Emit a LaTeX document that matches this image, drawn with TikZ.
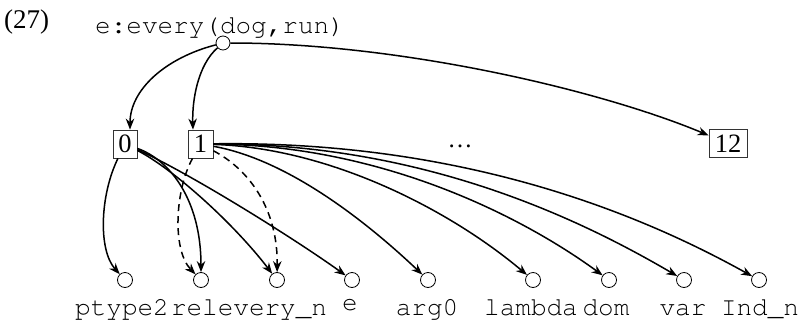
\documentclass[tikz,border=0pt]{standalone}
\usepackage{fontspec}
\setmainfont{Liberation Serif}
\newcommand{\crfont}{\fontencoding{T1}\fontfamily{pcr}\fontseries{m}\fontshape{n}\fontsize{26}{30}\selectfont}
\usetikzlibrary{arrows.meta}
\begin{document}
\begin{tikzpicture}[x=1pt,y=-1pt,
  box/.style={draw=black!80, line width=0.8pt, inner sep=0pt, minimum height=28pt, font=\fontsize{26.5}{30}\selectfont},
  dot/.style={circle, draw, line width=0.8pt, minimum size=15pt, inner sep=0pt},
  lab/.style={anchor=base, inner sep=0pt, font=\crfont},
  edge/.style={line width=1.5pt, -{Stealth[length=11pt,width=8.5pt]}},
  dedge/.style={edge, dash pattern=on 7pt off 5pt}]
\useasboundingbox (0,0) rectangle (802,324);
% top
\node[anchor=base west, inner sep=0pt, font=\fontsize{27}{30}\selectfont] (num) at (4,28) {(27)};
\node[dot, minimum size=14pt] (r) at (223,43) {};
\node[anchor=base, inner sep=0pt, font=\crfont] (rl) at (220,33) {e:every(dog,run)};
% middle
\node[box, minimum width=24pt] (b0) at (125,144) {0};
\node[box, minimum width=25pt] (b1) at (200.5,144) {1};
\node[box, minimum width=38pt] (b12) at (728,143.5) {12};
\node[anchor=base, inner sep=0pt, font=\fontsize{25}{28}\selectfont] (dots) at (460,147) {…};
% bottom
\node[dot] (c1) at (125,280) {};
\node[dot] (c2) at (201,280) {};
\node[dot] (c3) at (277,280) {};
\node[dot] (c4) at (352,280) {};
\node[dot] (c5) at (428,280) {};
\node[dot] (c6) at (533,280) {};
\node[dot] (c7) at (609,280) {};
\node[dot] (c8) at (684,280) {};
\node[dot] (c9) at (759,280) {};
\node[lab] (l1) at (122,315) {ptype2};
\node[lab] (l2) at (249,315) {relevery\_n};
\node[lab] (l3) at (350,310.5) {e};
\node[lab] (l5) at (427,315) {arg0};
\node[lab] (l6) at (531,315) {lambda};
\node[lab] (l7) at (606,315) {dom};
\node[lab] (l8) at (683,315) {var};
\node[lab] (l9) at (760,315) {Ind\_n};
% edges from root
\draw[edge] (r) .. controls (165,58) and (130,90) .. ([xshift=5pt]b0.north);
\draw[edge] (r) .. controls (198,65) and (192,100) .. ([xshift=-7.5pt]b1.north);
\draw[edge] (r) .. controls (400,43) and (600,90) .. (b12);
% edges from 0
\draw[edge] (b0) .. controls (100,195) and (98,250) .. (c1);
\draw[edge] (b0) .. controls (170,160) and (201,200) .. (c2);
\draw[edge] (b0) .. controls (175,170) and (235,225) .. (c3);
\draw[edge] (b0) .. controls (191,174) and (295,239) .. (c4);
% edges from 1
\draw[dedge] (b1) .. controls (175,190) and (172,250) .. (c2);
\draw[dedge] (b1) .. controls (250,170) and (278,210) .. (c3);
\draw[edge] (b1) .. controls (290,160) and (370,225) .. (c5);
\draw[edge] (b1) .. controls (330,148) and (450,210) .. (c6);
\draw[edge] (b1) .. controls (380,145) and (520,215) .. (c7);
\draw[edge] (b1) .. controls (430,143) and (590,225) .. (c8);
\draw[edge] (b1) .. controls (480,140) and (660,225) .. (c9);
\end{tikzpicture}
\end{document}
